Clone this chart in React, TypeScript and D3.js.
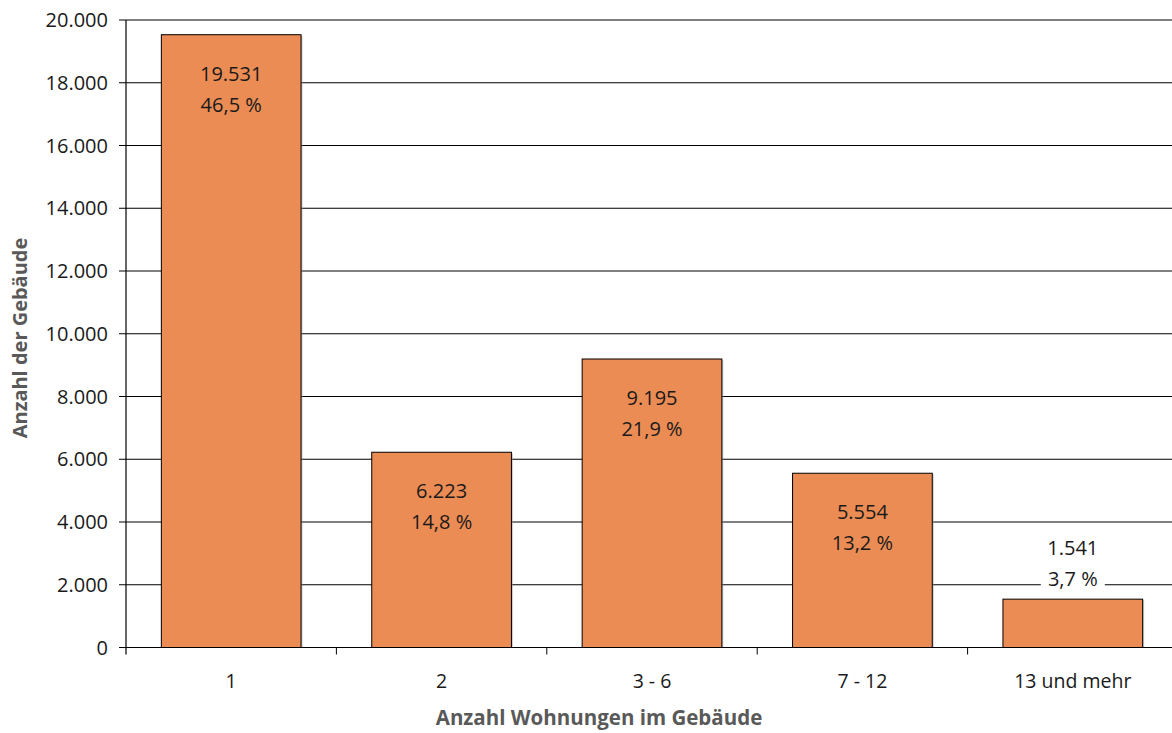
import React from "react";
import * as d3 from "d3";

const categories = ["1", "2", "3 - 6", "7 - 12", "13 und mehr"];
const counts = [19531, 6223, 9195, 5554, 1541];
const percents = ["46,5 %", "14,8 %", "21,9 %", "13,2 %", "3,7 %"];
const yTicks = [0, 2000, 4000, 6000, 8000, 10000, 12000, 14000, 16000, 18000, 20000];

const W = 1172;
const H = 733;
const left = 126;
const right = 1178;
const top = 20;
const bottom = 647.5;

const fmt = (v: number) => d3.format(",")(v).replace(/,/g, ".");

export default function App() {
  const x = d3.scaleBand<string>().domain(categories).range([left, right]).paddingInner(0.336).paddingOuter(0.168);
  const y = d3.scaleLinear().domain([0, 20000]).range([bottom, top]);
  const font = "'Open Sans', sans-serif";
  return (
    <svg width={W} height={H} style={{ position: "fixed", left: 0, top: 0, background: "#fff" }} fontFamily={font}>
      {yTicks.map((t) => (
        <g key={t}>
          {t > 0 && <line x1={left} x2={W} y1={y(t)} y2={y(t)} stroke="#000" strokeWidth={1} />}
          <line x1={left - 7} x2={left} y1={y(t)} y2={y(t)} stroke="#000" strokeWidth={1} />
          <text x={left - 18} y={y(t)} dy="0.35em" textAnchor="end" fontSize={20} fill="#1a1a1a">
            {fmt(t)}
          </text>
        </g>
      ))}
      {categories.map((c, i) => {
        const x0 = x(c)!;
        const bw = x.bandwidth();
        const yTop = y(counts[i]);
        const inside = bottom - yTop > 100;
        const cx = x0 + bw / 2;
        const l1 = inside ? yTop + 39 : yTop - 51;
        return (
          <g key={c}>
            <rect x={x0 + 1.5} y={yTop + 1} width={bw} height={bottom - yTop - 1} fill="#9a9a9a" opacity={0.5} />
            <rect x={x0} y={yTop} width={bw} height={bottom - yTop} fill="#EB8C55" stroke="#000" strokeWidth={1} />
            {!inside && <rect x={cx - 32} y={l1 - 18} width={64} height={64} fill="#fff" />}
            <text x={cx} y={l1} dy="0.35em" textAnchor="middle" fontSize={20} fill="#1a1a1a">
              {fmt(counts[i])}
            </text>
            <text x={cx} y={l1 + 31} dy="0.35em" textAnchor="middle" fontSize={20} fill="#1a1a1a">
              {percents[i]}
            </text>
            <text x={cx} y={681} dy="0.35em" textAnchor="middle" fontSize={19.5} fill="#1a1a1a">
              {c}
            </text>
          </g>
        );
      })}
      <line x1={left} x2={left} y1={top} y2={bottom + 7} stroke="#000" strokeWidth={1.2} />
      <line x1={left} x2={W} y1={bottom} y2={bottom} stroke="#000" strokeWidth={1.2} />
      {categories.map((c, i) => {
        const xb = left + (i + 1) * x.step();
        return <line key={"t" + c} x1={xb} x2={xb} y1={bottom} y2={bottom + 7} stroke="#000" strokeWidth={1} />;
      })}
      <text x={599} y={718} dy="0.35em" textAnchor="middle" fontSize={20.5} fontWeight="bold" fill="#595959">
        Anzahl Wohnungen im Gebäude
      </text>
      <text transform={`translate(20,338) rotate(-90)`} dy="0.35em" textAnchor="middle" fontSize={20} fontWeight="bold" fill="#595959">
        Anzahl der Gebäude
      </text>
    </svg>
  );
}
